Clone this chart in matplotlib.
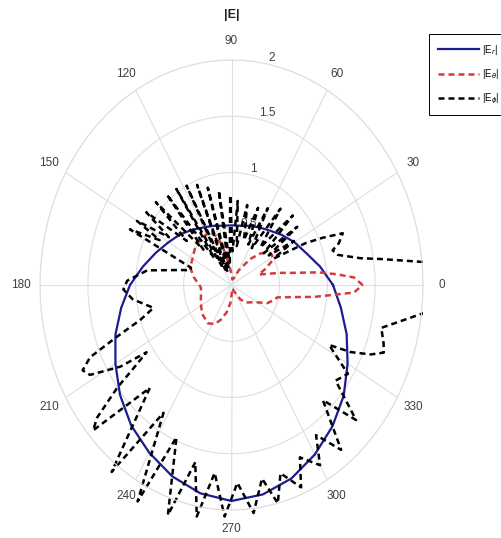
import numpy as np
import matplotlib
matplotlib.use('Agg')
import matplotlib.pyplot as plt
from matplotlib.patches import Rectangle

# |E_r| (blue), read every 10 deg
er_theta = [0, 10, 20, 30, 40, 50, 60, 70, 80, 90, 100, 110, 120, 130, 140, 150, 160, 170,
            180, 190, 200, 210, 220, 230, 240, 250, 260, 270, 280, 290, 300, 310, 320, 330,
            340, 350, 360]
er_r = [1.06, 0.94, 0.83, 0.76, 0.69, 0.63, 0.59, 0.56, 0.535, 0.53, 0.535, 0.56, 0.59, 0.64,
        0.70, 0.76, 0.84, 0.94, 1.06, 1.17, 1.29, 1.40, 1.52, 1.63, 1.72, 1.81, 1.88, 1.92,
        1.89, 1.83, 1.74, 1.64, 1.53, 1.40, 1.28, 1.16, 1.06]

# |E_theta| (red)
eth_theta = [0, 3, 5, 7, 10, 12, 15, 18, 22, 27, 32, 38, 43, 50, 60, 70, 80, 90, 99, 105, 109,
             115, 122, 130, 140, 150, 160, 170, 184, 195, 207, 220, 234, 243, 250, 258, 266,
             275, 285, 295, 306, 315, 327, 337, 343, 347, 350, 353, 357, 360]
eth_r = [1.37, 1.28, 1.1, 0.92, 0.62, 0.52, 0.38, 0.3, 0.38, 0.48, 0.5, 0.47, 0.41, 0.3, 0.15,
         0.06, 0.05, 0.1, 0.2, 0.35, 0.45, 0.52, 0.52, 0.52, 0.5, 0.47, 0.46, 0.40, 0.32, 0.33,
         0.36, 0.40, 0.42, 0.39, 0.33, 0.25, 0.16, 0.06, 0.03, 0.06, 0.16, 0.22, 0.28, 0.41,
         0.46, 0.49, 0.62, 0.87, 1.28, 1.37]

# |E_phi| (black)
eph_theta = [0, 3, 5.8, 8.4, 10, 13.6, 16.3, 18.3, 21.6, 23.8, 25.7, 28, 31, 34, 37, 40, 44,
             48, 53, 57, 61, 64, 68, 72, 77, 81, 85, 88, 91, 95, 99, 102, 106, 109, 112, 115,
             118, 121, 124, 127, 130, 133, 137, 140, 144, 147, 150, 152, 155, 160, 163, 166,
             171.6, 178, 182, 187, 194, 198, 201, 203.5, 206, 208.4, 212, 214, 216, 217.4,
             220, 221.8, 227, 233, 238, 243, 247, 252, 256.5, 260, 264, 268, 272, 276.5,
             280.5, 284, 287, 292, 295, 300, 303.5, 308, 313, 317.3, 322, 327, 332.4, 334.4,
             337, 339.3, 342, 346.3, 353, 357, 360]
eph_r = [2.3, 2.25, 2.02, 1.58, 1.37, 1.14, 1.10, 1.18, 1.25, 1.04, 0.86, 0.5, 0.76, 0.47,
         0.86, 0.44, 0.89, 0.45, 0.85, 0.39, 0.78, 0.40, 0.74, 0.42, 0.73, 0.35, 0.75, 0.3,
         0.8, 0.2, 0.85, 0.14, 0.9, 0.12, 0.96, 0.15, 1.0, 0.2, 1.03, 0.3, 1.05, 0.43, 1.08,
         0.61, 1.1, 0.78, 1.14, 0.85, 1.17, 0.45, 0.45, 0.55, 0.89, 1.09, 1.13, 1.04, 0.84,
         1.0, 1.28, 1.61, 1.73, 1.68, 1.37, 1.07, 1.28, 1.5, 1.83, 1.94, 1.25, 2.08, 1.34,
         2.16, 1.47, 2.15, 1.62, 2.09, 1.68, 2.06, 1.76, 2.04, 1.75, 2.0, 1.75, 1.94, 1.69,
         1.85, 1.6, 1.86, 1.4, 1.77, 1.38, 1.45, 1.15, 1.38, 1.58, 1.7, 1.67, 1.61, 2.03,
         2.2, 2.3]

labels = ['|E$_r$|', '|E$_\\theta$|', '|E$_\\phi$|']
angle_ticks = list(range(0, 360, 30))
r_ticks = [0.5, 1, 1.5, 2]

plt.rcParams['font.family'] = ['Liberation Sans', 'DejaVu Sans']

fig = plt.figure(figsize=(5.01, 5.38), dpi=100)
ax = fig.add_axes([40 / 501, 28 / 538, 383 / 501, 450 / 538], projection='polar')
ax.set_aspect('auto')

l1, = ax.plot(np.deg2rad(er_theta), er_r, color='#1c1c90', lw=1.6, label=labels[0])
l2, = ax.plot(np.deg2rad(eth_theta), eth_r, color='#d43b3b', lw=1.8, ls='--',
              dashes=(2.4, 1.6), label=labels[1])
l3, = ax.plot(np.deg2rad(eph_theta), eph_r, color='black', lw=1.8, ls='--',
              dashes=(2.4, 1.6), label=labels[2])

# old matlab polar clips to a box, not to the circle
clip = Rectangle((0, -0.075), 1, 1.15, transform=ax.transAxes)
for ln in (l1, l2, l3):
    ln.set_clip_path(clip)

ax.set_rlim(0, 2)
ax.set_rgrids(r_ticks, labels=['0.5', '1', '1.5', '2'], angle=79)
ax.set_thetagrids(angle_ticks, labels=[str(a) for a in angle_ticks])
ax.grid(color='#dedede', lw=0.8)
ax.spines['polar'].set_color('#dedede')
ax.spines['polar'].set_linewidth(0.8)
ax.tick_params(axis='x', labelsize=8.5, labelcolor='#404040', pad=3)
ax.tick_params(axis='y', labelsize=8.5, labelcolor='#404040')

fig.text(232 / 501, 1 - 15 / 538, '|E|', ha='center', va='center', fontsize=9,
         fontweight='bold', color='#222222')

leg = fig.legend(handles=[l1, l2, l3], labels=labels,
                 loc='upper left', bbox_to_anchor=(424 / 501, 1 - 29 / 538), fontsize=7,
                 handlelength=4.3, handletextpad=0.3, labelspacing=1.1, borderpad=0.9,
                 fancybox=False, framealpha=1, edgecolor='black')
leg.get_frame().set_linewidth(0.7)

plt.savefig('out.png', dpi=100)
